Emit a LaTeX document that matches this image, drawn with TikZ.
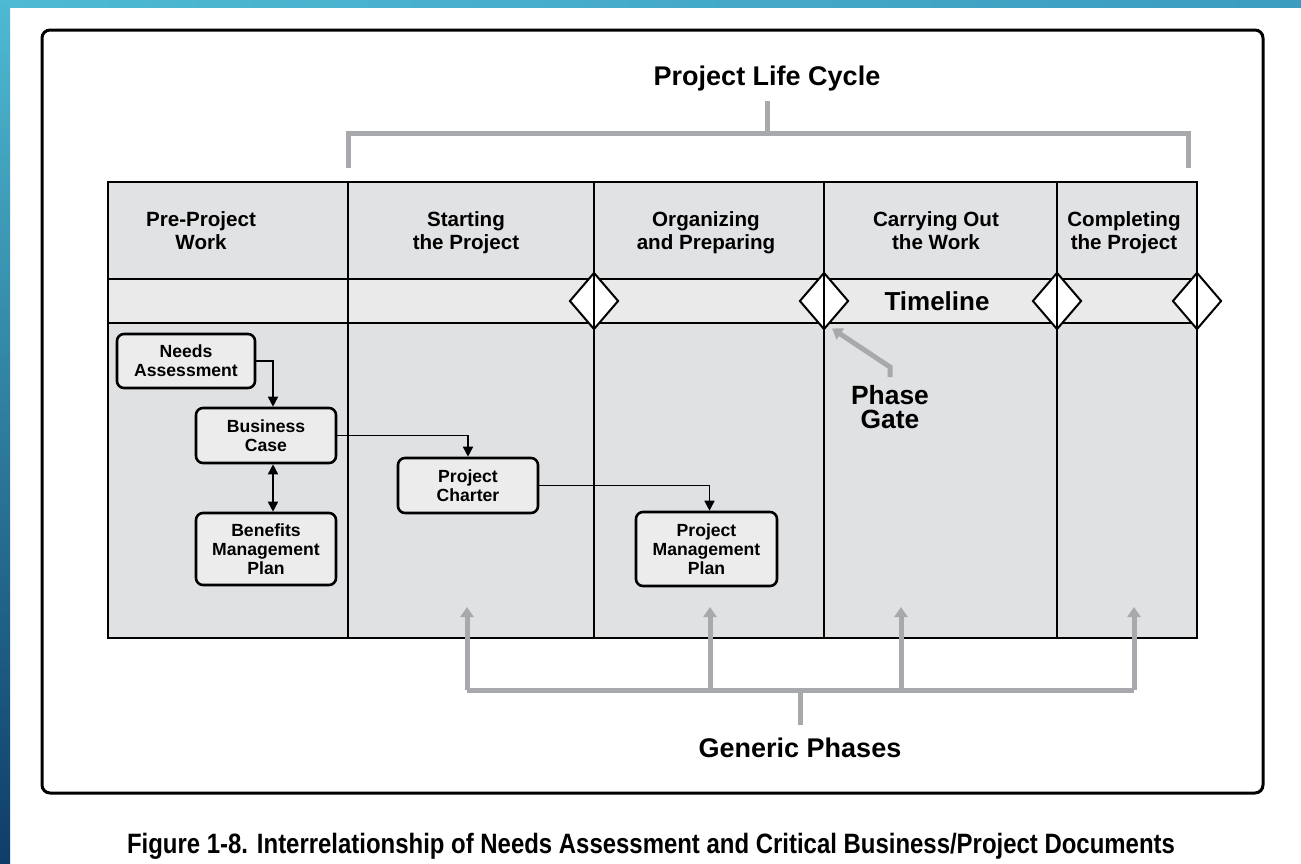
\documentclass[tikz,border=0pt]{standalone}
\usepackage{fontspec}
\setmainfont{Liberation Sans}
\newfontfamily\narrowfont[FakeStretch=0.855]{Liberation Sans}
\usetikzlibrary{arrows.meta,shapes.geometric}

\definecolor{hdrfill}{RGB}{225,226,228}
\definecolor{bandfill}{RGB}{234,234,234}
\definecolor{bodyfill}{RGB}{224,225,227}
\definecolor{docfill}{RGB}{236,236,236}
\definecolor{bracketgray}{RGB}{168,169,173}
\definecolor{stripA}{RGB}{78,186,211}
\definecolor{stripB}{RGB}{60,156,192}
\definecolor{stripC}{RGB}{14,61,104}

\tikzset{every picture/.style={line width=0.75pt}}

\begin{document}
\begin{tikzpicture}[x=0.5pt,y=0.5pt,yscale=-1,xscale=1,
  doc/.style={draw=black,line width=1.3pt,rounded corners=3.5pt,fill=docfill,align=center,inner sep=0pt,font=\fontsize{8.8}{9.4}\selectfont\bfseries},
  head/.style={anchor=north,align=center,inner sep=0.75pt,font=\fontsize{10.3}{11.5}\selectfont\bfseries},
  title/.style={inner sep=0.75pt,font=\fontsize{13.5}{15}\selectfont\bfseries},
  gate/.style={diamond,draw=black,line width=1pt,fill=white,inner sep=0pt,minimum width=24.5pt,minimum height=28.5pt},
  flow/.style={draw=black,line width=0.8pt,-{Triangle[length=5pt,width=5pt]}},
  bracket/.style={draw=bracketgray,line width=2.5pt},
  phasearrow/.style={bracket,-{Triangle[length=5pt,width=6.5pt]}}]
\useasboundingbox (0,0) rectangle (1301,863);
\fill[white] (0,0) rectangle (1301,863);

%Shape: Strips
\shade[left color=stripA,right color=stripB] (0,0) rectangle (1301,7);
\shade[top color=stripA,bottom color=stripC] (0,0) rectangle (10,863);

%Shape: Rounded Frame
\draw[line width=1.5pt,rounded corners=4pt] (42,30) rectangle (1263,793);

%Shape: Table
\fill[hdrfill] (108,182) rectangle (1197,279);
\fill[bandfill] (108,279) rectangle (1197,323);
\fill[bodyfill] (108,323) rectangle (1197,638);
\draw[line width=1pt] (108,279) -- (1197,279) (108,323) -- (1197,323);

%Shape: Phase Gates
\foreach \x [count=\i] in {594,824,1057,1197}
  \node[gate] (gate\i) at (\x,301) {};
\foreach \x in {348,594,824,1057}
  \draw[line width=1pt] (\x,182) -- (\x,638);
\draw[line width=1.2pt] (108,182) rectangle (1197,638);

% Text Node
\node[head] (hdr1) at (201,209.5) {Pre-Project\\Work};
\node[head] (hdr2) at (466,209.5) {Starting\\the Project};
\node[head] (hdr3) at (706,209.5) {Organizing\\and Preparing};
\node[head] (hdr4) at (936,209.5) {Carrying Out\\the Work};
\node[head] (hdr5) at (1124,209.5) {Completing\\the Project};
\node[title,font=\fontsize{13}{15}\selectfont\bfseries] (timeline) at (937,301) {Timeline};

%Shape: Documents
\node[doc,minimum width=69pt,minimum height=27pt] (needs) at (186,361) {Needs\\Assessment};
\node[doc,minimum width=70pt,minimum height=27.5pt] (business) at (266,435.5) {Business\\Case};
\node[doc,minimum width=70pt,minimum height=36pt] (benefits) at (266,549) {Benefits\\Management\\Plan};
\node[doc,minimum width=70pt,minimum height=27.5pt] (charter) at (468,485.5) {Project\\Charter};
\node[doc,minimum width=70.5pt,minimum height=37pt] (pmp) at (706.5,549) {Project\\Management\\Plan};

%Straight Lines
\draw[flow] (needs.east) -| ([xshift=3.5pt]business.north);
\draw[flow,{Triangle[length=5pt,width=5pt]}-{Triangle[length=5pt,width=5pt]}] ([xshift=3.5pt]business.south) -- ([xshift=3.5pt]benefits.north);
\draw[flow] (business.east) -| (charter.north);
\draw[flow] (charter.east) -| ([xshift=1.5pt]pmp.north);

% Text Node
\node[title] (lifecycle) at (767,79) {Project Life Cycle};
\draw[bracket] (767,101) -- (767,133);
\draw[bracket] (348,168) -- (348,133) -- (1188,133) -- (1188,168);

% Text Node
\node[title,align=center,font=\fontsize{13.2}{12}\selectfont\bfseries] (phasegate) at (890,407) {Phase\\Gate};
\coordinate (gatestem) at (890,377);
\draw[phasearrow] (gatestem) -- ++(0,-10) -- ([xshift=4pt,yshift=-1pt]gate2.south);

% Text Node
\node[title] (generic) at (800,748) {Generic Phases};
\coordinate (phbar) at (800,690);
\draw[bracket] (generic.north |- 0,725) -- (phbar);
\draw[bracket] (467,690) -- (1134,690);
\foreach \x [count=\i] in {467,710,901,1134} {
  \coordinate (ph\i) at (\x,607);
  \draw[phasearrow] (ph\i |- phbar) -- (ph\i);
}

% Text Node
\node[inner sep=0pt,font=\fontsize{14}{16}\selectfont\narrowfont\bfseries] (caption) at (651,846) {Figure 1-8. Interrelationship of Needs Assessment and Critical Business/Project Documents};

\end{tikzpicture}
\end{document}
